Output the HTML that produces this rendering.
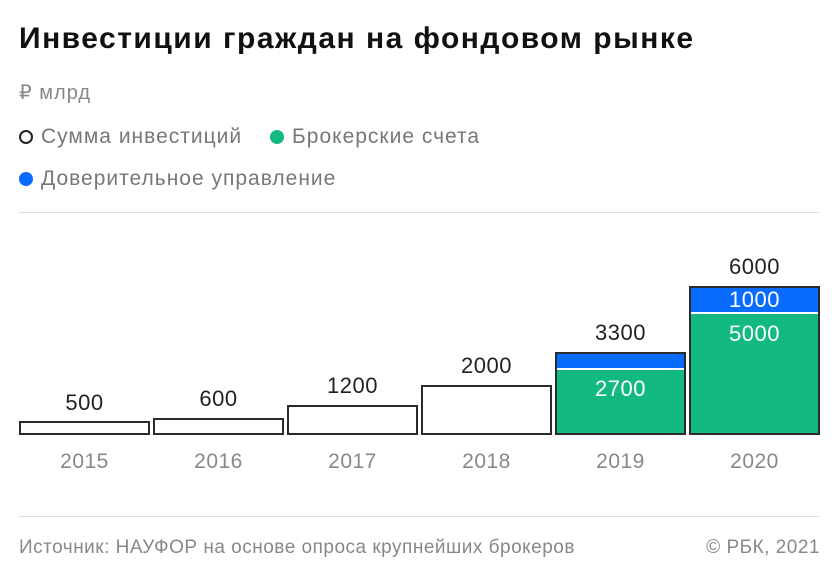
<!DOCTYPE html>
<html><head><meta charset="utf-8"><style>
body{margin:0;width:840px;height:583px;background:#fff;font-family:"Liberation Sans",sans-serif;overflow:hidden;position:relative}
.a{position:absolute;white-space:nowrap}
.b{position:absolute;box-sizing:border-box;border:2px solid #2b2b2b;background:#fff}
.v{position:absolute;width:131px;text-align:center;font-size:22px;color:#222;letter-spacing:0.5px}
.y{position:absolute;width:131px;text-align:center;font-size:21px;color:#888;top:450px;letter-spacing:0.5px}
.dot{display:inline-block;width:14px;height:14px;border-radius:50%;box-sizing:border-box;vertical-align:-1px;margin-right:8px}
.lg{font-size:21px;color:#777;letter-spacing:1px}
</style></head><body>
<div class="a" style="left:19px;top:22px;font-size:30px;font-weight:bold;color:#111;letter-spacing:1.5px">Инвестиции граждан на фондовом рынке</div>
<div class="a" style="left:19px;top:80px;font-size:20px;color:#888;letter-spacing:1px">₽ млрд</div>
<div class="a lg" style="left:19px;top:125px"><span class="dot" style="border:2px solid #222"></span>Сумма инвестиций</div>
<div class="a lg" style="left:270px;top:125px"><span class="dot" style="background:#12b981"></span>Брокерские счета</div>
<div class="a lg" style="left:19px;top:167px"><span class="dot" style="background:#0a6cff"></span>Доверительное управление</div>
<div class="a" style="left:19px;top:212px;width:801px;height:1px;background:#ddd"></div>

<div class="b" style="left:19px;top:421px;width:131px;height:14px"></div>
<div class="b" style="left:153px;top:418px;width:131px;height:17px"></div>
<div class="b" style="left:287px;top:405px;width:131px;height:30px"></div>
<div class="b" style="left:421px;top:385px;width:131px;height:50px"></div>
<div class="b" style="left:555px;top:352px;width:131px;height:83px;background:#12b981">
 <div style="height:14px;background:#0a6cff;border-bottom:2px solid #fff"></div></div>
<div class="b" style="left:689px;top:286px;width:131px;height:149px;background:#12b981">
 <div style="height:24px;background:#0a6cff;border-bottom:2px solid #fff"></div></div>

<div class="v" style="left:19px;top:390px">500</div>
<div class="v" style="left:153px;top:386px">600</div>
<div class="v" style="left:287px;top:373px">1200</div>
<div class="v" style="left:421px;top:353px">2000</div>
<div class="v" style="left:555px;top:320px">3300</div>
<div class="v" style="left:689px;top:254px">6000</div>
<div class="v" style="left:555px;top:376px;color:#fff">2700</div>
<div class="v" style="left:689px;top:287px;color:#fff">1000</div>
<div class="v" style="left:689px;top:321px;color:#fff">5000</div>

<div class="y" style="left:19px">2015</div>
<div class="y" style="left:153px">2016</div>
<div class="y" style="left:287px">2017</div>
<div class="y" style="left:421px">2018</div>
<div class="y" style="left:555px">2019</div>
<div class="y" style="left:689px">2020</div>

<div class="a" style="left:19px;top:516px;width:801px;height:1px;background:#ddd"></div>
<div class="a" style="left:19px;top:537px;font-size:19px;color:#888;letter-spacing:0.5px">Источник: НАУФОР на основе опроса крупнейших брокеров</div>
<div class="a" style="right:20px;top:537px;font-size:19px;color:#888;letter-spacing:0.5px">© РБК, 2021</div>
</body></html>
